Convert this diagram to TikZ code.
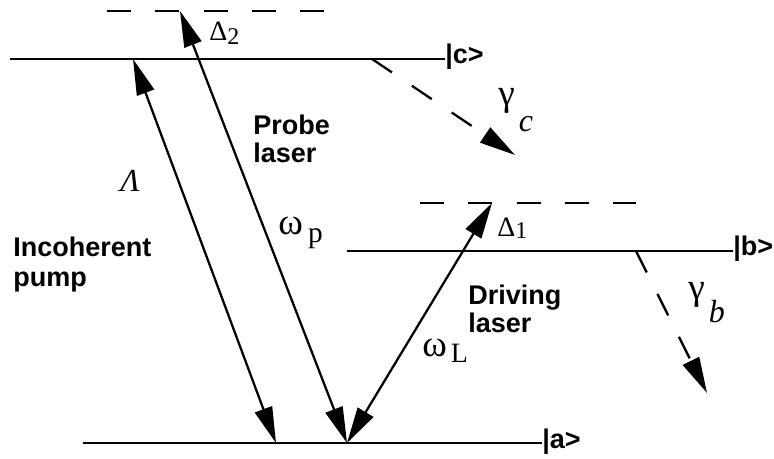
\documentclass[tikz,border=0pt]{standalone}
\usepackage{fontspec}
\setsansfont{Liberation Sans}
\newfontfamily\grkfont{Liberation Serif}
\usetikzlibrary{arrows.meta, positioning}

\begin{document}
\begin{tikzpicture}[
  x=0.75pt, y=-0.75pt,
  level/.style={line width=1.7pt},
  virt/.style={line width=1.7pt, dash pattern=on 18pt off 18.2pt},
  trans/.style={{Triangle[length=27pt, width=13.5pt]}-{Triangle[length=27pt, width=13.5pt]}, line width=1.7pt},
  decay/.style={-{Triangle[length=27pt, width=13.5pt]}, line width=1.7pt, dash pattern=on 18pt off 18pt},
  lbl/.style={font=\fontsize{20.25}{20.5}\selectfont\sffamily\bfseries, align=left, inner sep=0pt, anchor=north west},
  ket/.style={font=\fontsize{20.25}{20.25}\selectfont\sffamily\bfseries, inner sep=0pt, anchor=base west},
  grk/.style={font=\fontsize{28}{28}\selectfont\grkfont, inner sep=0pt, anchor=base west}
]
\useasboundingbox (0,0) rectangle (774,459);

\coordinate (c-l) at (10,59);
\coordinate (c-r) at (445,59);
\coordinate (b-l) at (347,251);
\coordinate (b-r) at (733,251);
\coordinate (a-l) at (83,443);
\coordinate (a-r) at (542,443);
\coordinate (v2-l) at (107,11);
\coordinate (v2-r) at (324,11);
\coordinate (v1-l) at (420,203);
\coordinate (v1-r) at (636,203);

\coordinate (pump-a) at (276,443);
\coordinate (pump-c) at (133,59);
\coordinate (las-a) at (347,443);
\coordinate (probe-v) at (180,11);
\coordinate (drive-v) at (492,203);
\coordinate (dec-c) at (372,59);
\coordinate (dec-c-end) at (515,155);
\coordinate (dec-b) at (636,251);
\coordinate (dec-b-end) at (707,393);

\draw[level] (c-l) -- (c-r);
\draw[level] (b-l) -- (b-r);
\draw[level] (a-l) -- (a-r);
\draw[virt] (v2-l) -- (v2-r);
\draw[virt] (v1-l) -- (v1-r);

\node[ket] (ket-c) at (445,64) {|c>};
\node[ket] (ket-b) at (733,256) {|b>};
\node[ket] (ket-a) at (542,448) {|a>};

\draw[trans] (pump-a) -- (pump-c);
\draw[trans] (las-a) -- (probe-v);
\draw[trans] (las-a) -- (drive-v);
\draw[decay] (dec-c) -- (dec-c-end);
\draw[decay] (dec-b) -- (dec-b-end);

\node[lbl] (probe) at (253,115) {Probe\\laser};
\node[lbl] (pump) at (13,237) {Incoherent\\[1.5pt]pump};
\node[lbl] (drive) at (468,285) {Driving\\laser};

\node[grk, font=\fontsize{21}{21}\selectfont\grkfont] (delta2) at (209,41) {Δ\raisebox{-3pt}{\fontsize{18}{18}\selectfont 2}};
\node[grk, font=\fontsize{21}{21}\selectfont\grkfont] (delta1) at (497,237) {Δ\raisebox{-1pt}{\fontsize{18}{18}\selectfont 1}};
\node[grk, font=\fontsize{24}{24}\selectfont\grkfont\itshape] (lambda) at (120,192) {Λ};
\node[grk] (omega-p) at (278,235) {ω\hspace{4pt}\raisebox{-6pt}{\fontsize{22}{22}\selectfont p}};
\node[grk] (omega-l) at (422,357) {ω\hspace{3pt}\raisebox{-4.5pt}{\fontsize{21}{21}\selectfont L}};
\node[grk] (gamma-c) at (498,106) {γ\hspace{3pt}\raisebox{-19pt}{\fontsize{24}{24}\selectfont\itshape c}};
\node[grk] (gamma-b) at (688,300) {γ\hspace{3pt}\raisebox{-17pt}{\fontsize{24}{24}\selectfont\itshape b}};
\end{tikzpicture}
\end{document}
